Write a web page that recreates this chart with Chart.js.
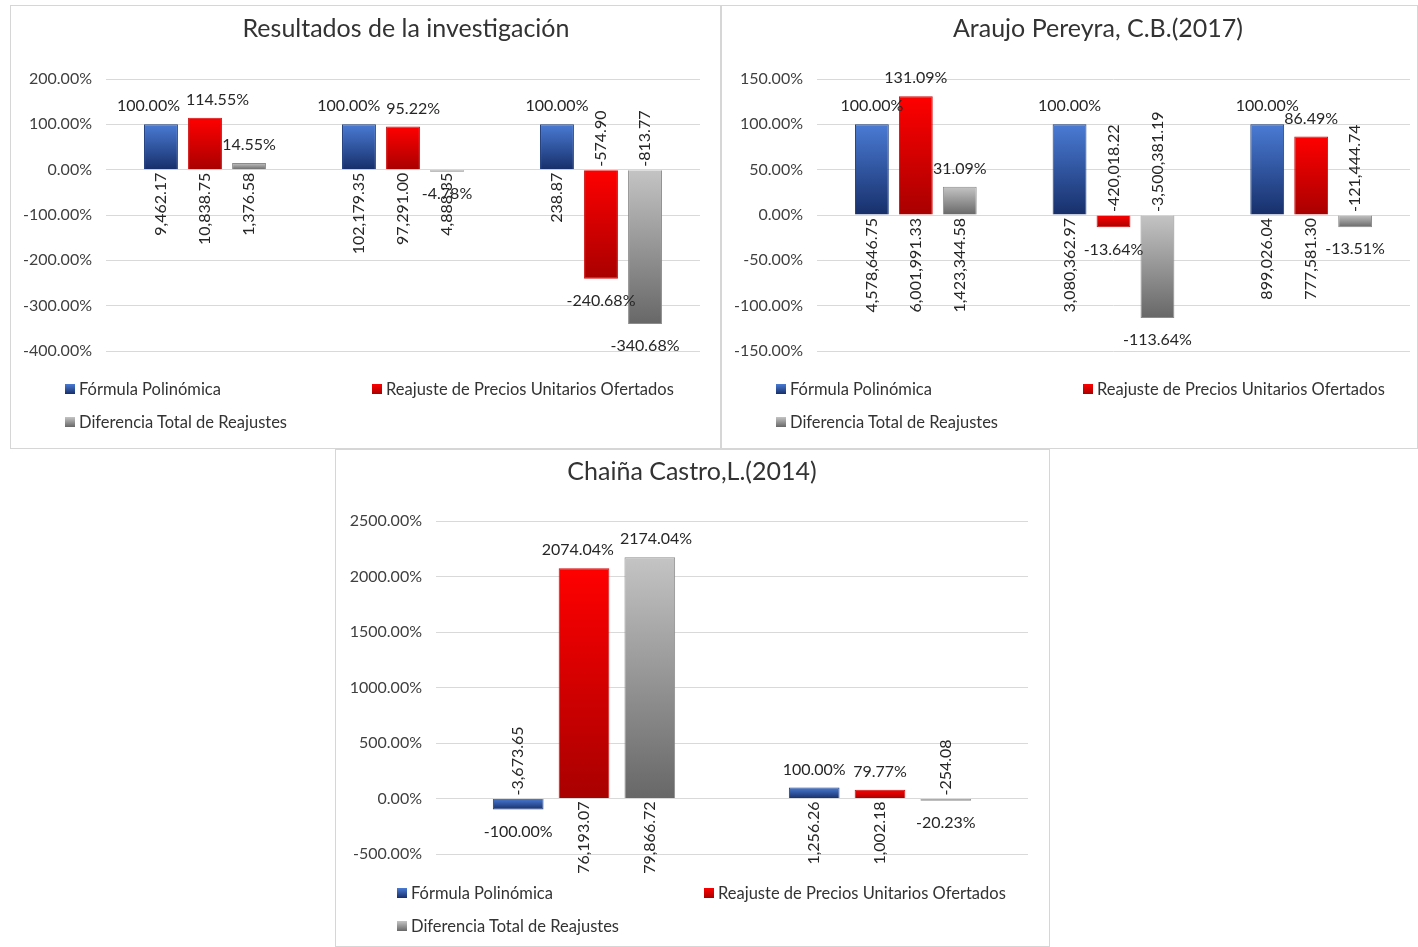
<!DOCTYPE html>
<html>
<head>
<meta charset="utf-8">
<script src="https://cdn.jsdelivr.net/npm/chart.js@4.4.0/dist/chart.umd.min.js"></script>
<style>
  body { margin: 0; background: #fff; font-family: Lato, sans-serif; }
  #page { position: relative; width: 1418px; height: 947px; overflow: hidden; }
  .panel { position: absolute; background: #fff; box-shadow: inset 0 0 0 1px #d6d6d6; }
  .panel canvas { position: absolute; left: 0; top: 0; }
  .title { position: absolute; transform: translate(-50%, -50%); font-size: 25px; color: #333; white-space: nowrap; }
  .leg { position: absolute; transform: translateY(-50%); font-size: 16.5px; color: #333; white-space: nowrap; display: flex; align-items: center; }
  .leg i { display: inline-block; width: 10px; height: 10px; margin-right: 4px; }
</style>
</head>
<body>
<div id="page">
  <div class="panel" id="p1" style="left:10px;top:5px;width:711px;height:444px;">
    <canvas id="c1" width="711" height="444"></canvas>
    <div class="title" style="left:396px;top:22px;">Resultados de la investigación</div>
  </div>
  <div class="panel" id="p2" style="left:721px;top:5px;width:697px;height:444px;">
    <canvas id="c2" width="697" height="444"></canvas>
    <div class="title" style="left:377px;top:22px;">Araujo Pereyra, C.B.(2017)</div>
  </div>
  <div class="panel" id="p3" style="left:335px;top:449px;width:715px;height:498px;">
    <canvas id="c3" width="715" height="498"></canvas>
    <div class="title" style="left:357px;top:21px;">Chaiña Castro,L.(2014)</div>
  </div>
</div>
<script>
(function () {
  'use strict';

  const seriesNames = ['Fórmula Polinómica', 'Reajuste de Precios Unitarios Ofertados', 'Diferencia Total de Reajustes'];

  // Resultados de la investigación
  const invCategories = ['1', '2', '3'];
  const invFormula = [100, 100, 100];
  const invReajuste = [114.55, 95.22, -240.68];
  const invDiferencia = [14.55, -4.78, -340.68];
  const invFormulaAmt = ['9,462.17', '102,179.35', '238.87'];
  const invReajusteAmt = ['10,838.75', '97,291.00', '-574.90'];
  const invDiferenciaAmt = ['1,376.58', '4,888.35', '-813.77'];
  const invTicks = [-400, -300, -200, -100, 0, 100, 200];

  // Araujo Pereyra, C.B.(2017)
  const araCategories = ['1', '2', '3'];
  const araFormula = [100, 100, 100];
  const araReajuste = [131.09, -13.64, 86.49];
  const araDiferencia = [31.09, -113.64, -13.51];
  const araFormulaAmt = ['4,578,646.75', '3,080,362.97', '899,026.04'];
  const araReajusteAmt = ['6,001,991.33', '-420,018.22', '777,581.30'];
  const araDiferenciaAmt = ['1,423,344.58', '-3,500,381.19', '-121,444.74'];
  const araTicks = [-150, -100, -50, 0, 50, 100, 150];

  // Chaiña Castro,L.(2014)
  const chaCategories = ['1', '2'];
  const chaFormula = [-100, 100];
  const chaReajuste = [2074.04, 79.77];
  const chaDiferencia = [2174.04, -20.23];
  const chaFormulaAmt = ['-3,673.65', '1,256.26'];
  const chaReajusteAmt = ['76,193.07', '1,002.18'];
  const chaDiferenciaAmt = ['79,866.72', '-254.08'];
  const chaTicks = [-500, 0, 500, 1000, 1500, 2000, 2500];

  // bar gradient colours (top -> bottom)
  const colTop = ['#4a7bd4', '#ff0000', '#c4c4c4'];
  const colBottom = ['#172f6a', '#a80000', '#676767'];
  const colBorder = ['#203f80', '#d01010', '#8c8c8c'];

  function gradientFor(k) {
    return function (ctx) {
      const chart = ctx.chart;
      const y = chart.scales && chart.scales.y;
      if (!y || ctx.type !== 'data') return colTop[k];
      const p1 = y.getPixelForValue(ctx.raw);
      const p0 = y.getPixelForValue(0);
      const top = Math.min(p0, p1), bot = Math.max(p0, p1);
      if (!isFinite(top) || bot - top < 1) return colBottom[k];
      const g = chart.ctx.createLinearGradient(0, top, 0, bot);
      g.addColorStop(0, colTop[k]);
      g.addColorStop(1, colBottom[k]);
      return g;
    };
  }

  const LABEL_H = 16;

  const barLabels = {
    id: 'barLabels',
    afterDatasetsDraw: function (chart) {
      const ctx = chart.ctx;
      const zero = chart.scales.y.getPixelForValue(0);
      ctx.save();
      ctx.font = '16px Lato';
      ctx.fillStyle = '#262626';

      // percentage labels: collect per category, then push overlapping neighbours apart
      const nCat = chart.data.labels.length;
      for (let i = 0; i < nCat; i++) {
        const items = chart.data.datasets.map(function (ds, di) {
          const bar = chart.getDatasetMeta(di).data[i];
          const v = ds.data[i];
          const text = v.toFixed(2) + '%';
          return { text: text, x: bar.x, y: v >= 0 ? bar.y - 18 : bar.y + 22, w: ctx.measureText(text).width };
        });
        for (let j = 1; j < items.length; j++) {
          const a = items[j - 1], b = items[j];
          const vOverlap = LABEL_H - Math.abs(a.y - b.y);
          const hOverlap = (a.x + a.w / 2) - (b.x - b.w / 2) + 6;
          if (vOverlap > 4 && hOverlap > 0) {
            a.x -= hOverlap / 2;
            b.x += hOverlap / 2;
          }
        }
        ctx.textAlign = 'center';
        ctx.textBaseline = 'middle';
        items.forEach(function (it) { ctx.fillText(it.text, it.x, it.y); });
      }

      // amount labels, rotated, on the far side of the zero line
      chart.data.datasets.forEach(function (ds, di) {
        chart.getDatasetMeta(di).data.forEach(function (bar, i) {
          const amt = ds.amounts[i];
          const neg = amt.charAt(0) === '-';
          ctx.save();
          ctx.translate(bar.x, neg ? zero - 3 : zero + 3);
          ctx.rotate(-Math.PI / 2);
          ctx.textAlign = neg ? 'left' : 'right';
          ctx.textBaseline = 'middle';
          ctx.fillText(amt, 0, 0);
          ctx.restore();
        });
      });
      ctx.restore();
    }
  };

  function makeChart(id, labels, values, amounts, ticks, axisWidth, pad) {
    const datasets = values.map(function (vals, k) {
      return {
        label: seriesNames[k],
        data: vals,
        amounts: amounts[k],
        backgroundColor: gradientFor(k),
        borderColor: colBorder[k],
        borderWidth: 1,
        categoryPercentage: 0.667,
        barPercentage: 0.77
      };
    });
    return new Chart(document.getElementById(id), {
      type: 'bar',
      data: { labels: labels, datasets: datasets },
      options: {
        responsive: false,
        animation: false,
        layout: { padding: { top: pad.top, bottom: pad.bottom, left: 0, right: pad.right } },
        plugins: { legend: { display: false }, title: { display: false }, tooltip: { enabled: false } },
        scales: {
          x: { display: false },
          y: {
            min: Math.min.apply(null, ticks),
            max: Math.max.apply(null, ticks),
            afterFit: function (scale) { scale.width = axisWidth; },
            afterBuildTicks: function (scale) { scale.ticks = ticks.map(function (v) { return { value: v }; }); },
            border: { display: false },
            grid: { color: '#d9d9d9', lineWidth: 1, drawTicks: false },
            ticks: {
              padding: 14,
              color: '#404040',
              font: { family: 'Lato', size: 16 },
              callback: function (v) { return Number(v).toFixed(2) + '%'; }
            }
          }
        }
      },
      plugins: [barLabels]
    });
  }

  function addLegend(panelId, left1, left2, row1, row2) {
    const panel = document.getElementById(panelId);
    const spots = [[left1, row1], [left2, row1], [left1, row2]];
    seriesNames.forEach(function (name, k) {
      const el = document.createElement('div');
      el.className = 'leg';
      el.style.left = spots[k][0] + 'px';
      el.style.top = spots[k][1] + 'px';
      el.innerHTML = '<i style="background:linear-gradient(' + colTop[k] + ',' + colBottom[k] + ')"></i>' + name;
      panel.appendChild(el);
    });
  }

  makeChart('c1', invCategories, [invFormula, invReajuste, invDiferencia],
    [invFormulaAmt, invReajusteAmt, invDiferenciaAmt], invTicks, 96, { top: 74, bottom: 98, right: 21 });
  makeChart('c2', araCategories, [araFormula, araReajuste, araDiferencia],
    [araFormulaAmt, araReajusteAmt, araDiferenciaAmt], araTicks, 96, { top: 74, bottom: 98, right: 8 });
  makeChart('c3', chaCategories, [chaFormula, chaReajuste, chaDiferencia],
    [chaFormulaAmt, chaReajusteAmt, chaDiferenciaAmt], chaTicks, 101, { top: 72, bottom: 93, right: 22 });

  addLegend('p1', 55, 362, 384, 417);
  addLegend('p2', 55, 362, 384, 417);
  addLegend('p3', 62, 369, 444, 477);
})();
</script>
</body>
</html>
